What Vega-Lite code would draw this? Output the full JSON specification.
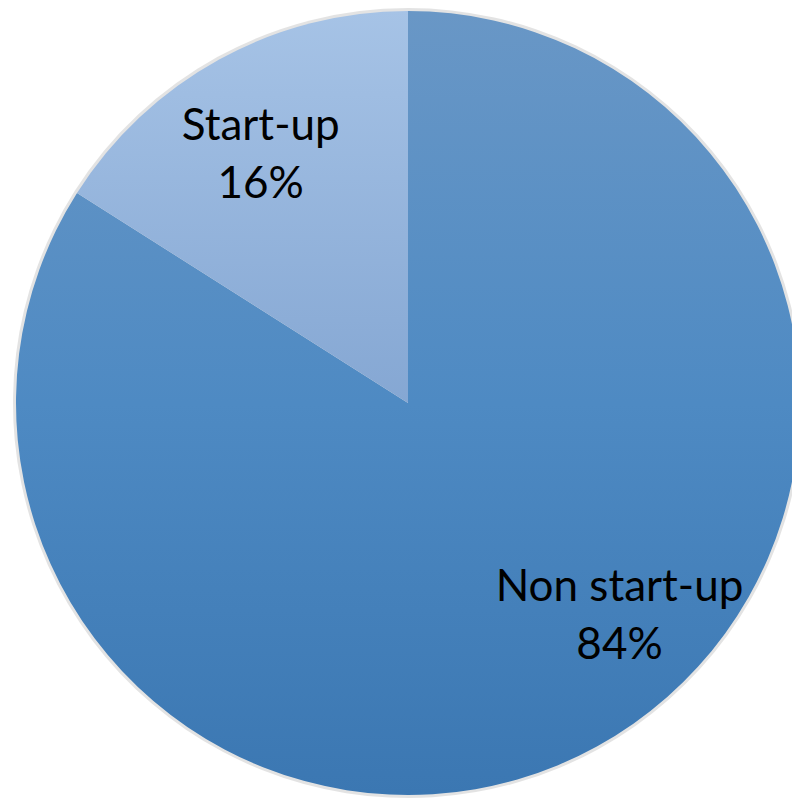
{
  "$schema": "https://vega.github.io/schema/vega-lite/v6.json",
  "width": 816,
  "height": 806,
  "autosize": {"type": "none"},
  "padding": 0,
  "background": "white",
  "config": {"view": {"stroke": null}},
  "data": {
    "values": [
      {"category": "Non start-up", "value": 84, "label": "Non start-up\n84%"},
      {"category": "Start-up", "value": 16, "label": "Start-up\n16%"}
    ]
  },
  "transform": [
    {"stack": "value", "groupby": [], "sort": [{"field": "category", "order": "ascending"}], "as": ["v0", "v1"]}
  ],
  "layer": [
    {
      "mark": {"type": "arc", "outerRadius": 395, "color": "#808080", "opacity": 0.22},
      "encoding": {
        "theta": {"field": "v0", "type": "quantitative", "scale": {"domain": [0, 100]}},
        "theta2": {"field": "v1"}
      }
    },
    {
      "transform": [{"filter": "datum.category === 'Non start-up'"}],
      "mark": {
        "type": "arc",
        "outerRadius": 392,
        "color": {
          "gradient": "linear", "x1": 0, "y1": 0, "x2": 0, "y2": 1,
          "stops": [
            {"offset": 0, "color": "#6997C6"},
            {"offset": 0.5, "color": "#4E8AC3"},
            {"offset": 1, "color": "#3B77B2"}
          ]
        }
      },
      "encoding": {
        "theta": {"field": "v0", "type": "quantitative", "scale": {"domain": [0, 100]}},
        "theta2": {"field": "v1"}
      }
    },
    {
      "transform": [{"filter": "datum.category === 'Start-up'"}],
      "mark": {
        "type": "arc",
        "outerRadius": 392,
        "color": {
          "gradient": "linear", "x1": 0, "y1": 0, "x2": 0, "y2": 1,
          "stops": [
            {"offset": 0, "color": "#A6C3E6"},
            {"offset": 1, "color": "#85A7D3"}
          ]
        }
      },
      "encoding": {
        "theta": {"field": "v0", "type": "quantitative", "scale": {"domain": [0, 100]}},
        "theta2": {"field": "v1"}
      }
    },
    {
      "mark": {"type": "text", "radius": 287, "font": "Lato", "fontSize": 44, "lineHeight": 58, "lineBreak": "\n", "color": "black", "baseline": "middle", "align": "center", "dx": -9, "dy": -24},
      "encoding": {
        "theta": {"field": "value", "type": "quantitative", "stack": true, "scale": {"domain": [0, 100]}},
        "order": {"field": "category", "sort": "ascending"},
        "text": {"condition": {"test": "datum.category === 'Start-up'", "field": "label"}, "value": ""}
      }
    },
    {
      "mark": {"type": "text", "radius": 300, "font": "Lato", "fontSize": 44, "lineHeight": 58, "lineBreak": "\n", "color": "black", "baseline": "middle", "align": "center", "dx": 67, "dy": -78},
      "encoding": {
        "theta": {"field": "value", "type": "quantitative", "stack": true, "scale": {"domain": [0, 100]}},
        "order": {"field": "category", "sort": "ascending"},
        "text": {"condition": {"test": "datum.category === 'Non start-up'", "field": "label"}, "value": ""}
      }
    }
  ]
}
